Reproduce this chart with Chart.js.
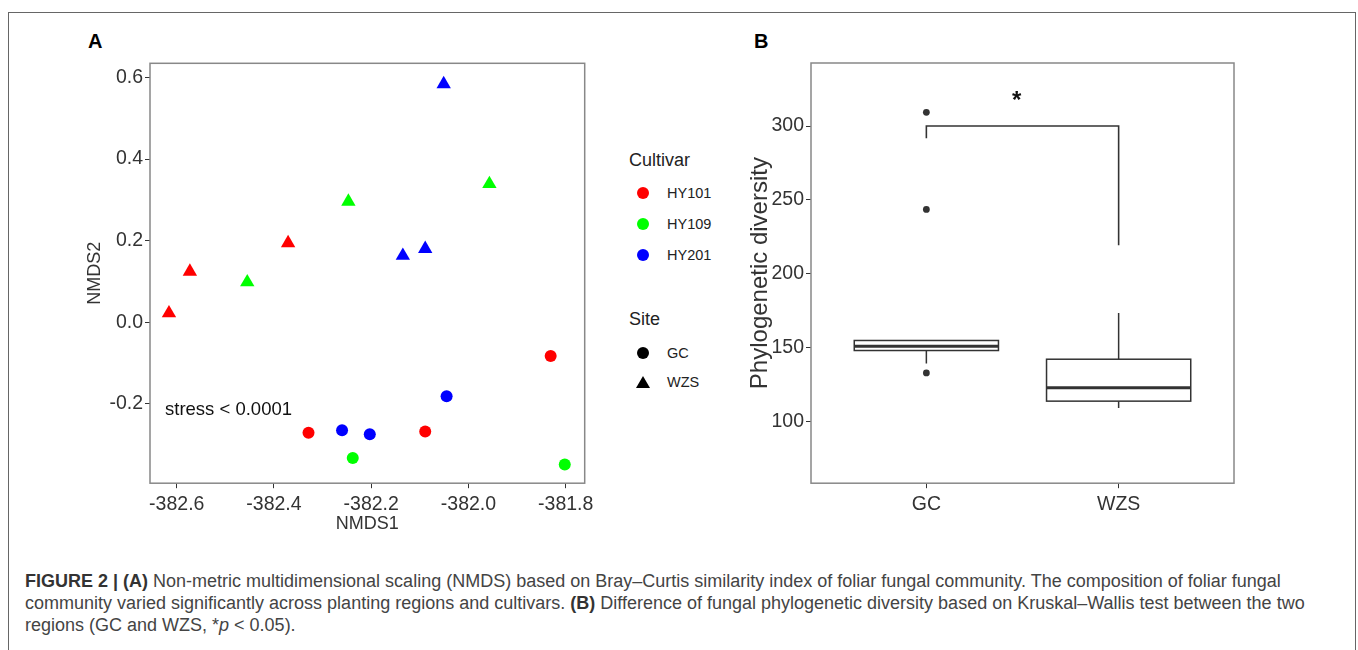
<!DOCTYPE html>
<html>
<head>
<meta charset="utf-8">
<script src="https://cdn.jsdelivr.net/npm/chart.js@4.4.1/dist/chart.umd.min.js"></script>
<style>
  body { margin: 0; background: #fff; font-family: 'Liberation Sans', Arial, sans-serif; }
  #page { position: relative; width: 1358px; height: 650px; overflow: hidden; }
  #frame { position: absolute; left: 8px; top: 12px; width: 1348px; height: 660px;
           border: 1.5px solid #666; border-bottom: none; box-sizing: border-box; }
  canvas { position: absolute; }
  .lbl { position: absolute; white-space: nowrap; }
  .panel { font-weight: bold; font-size: 20px; color: #000; }
  .legtitle { font-size: 18px; color: #222; }
  .legtext { font-size: 14.5px; color: #222; }
  .dot { position: absolute; width: 12px; height: 12px; border-radius: 50%; }
  .tri { position: absolute; width: 0; height: 0; border-left: 7px solid transparent;
         border-right: 7px solid transparent; border-bottom: 12px solid #000; }
  #caption { position: absolute; left: 25px; top: 570px; font-size: 18px; line-height: 22px;
             color: #444; white-space: nowrap; }
  #caption b { color: #333; }
</style>
</head>
<body>
<div id="page">
  <div id="frame"></div>
  <div class="lbl panel" style="left:88px; top:30px;">A</div>
  <div class="lbl panel" style="left:754px; top:30px;">B</div>

  <canvas id="nmds" width="513" height="480" style="left:80px; top:55px;"></canvas>
  <canvas id="pd" width="499" height="480" style="left:740px; top:55px;"></canvas>

  <div class="lbl" style="left:165px; top:398px; font-size:18.5px; line-height:22px; color:#111;">stress &lt; 0.0001</div>

  <div id="legend"></div>

  <div id="caption">
    <b>FIGURE 2 | (A)</b> Non-metric multidimensional scaling (NMDS) based on Bray–Curtis similarity index of foliar fungal community. The composition of foliar fungal<br>
    community varied significantly across planting regions and cultivars. <b>(B)</b> Difference of fungal phylogenetic diversity based on Kruskal–Wallis test between the two<br>
    regions (GC and WZS, *<i>p</i> &lt; 0.05).
  </div>
</div>

<script>
// ---- panel A data: NMDS scores ----
var cultivars = ['HY101', 'HY109', 'HY201'];
var sites = ['GC', 'WZS'];
var pointCultivar = ['HY101', 'HY101', 'HY101', 'HY109', 'HY109', 'HY109', 'HY201', 'HY201', 'HY201',
                     'HY101', 'HY101', 'HY101', 'HY109', 'HY109', 'HY201', 'HY201', 'HY201'];
var pointSite = ['WZS', 'WZS', 'WZS', 'WZS', 'WZS', 'WZS', 'WZS', 'WZS', 'WZS',
                 'GC', 'GC', 'GC', 'GC', 'GC', 'GC', 'GC', 'GC'];
var nmds1 = [-382.616, -382.573, -382.371, -382.455, -382.247, -381.957, -382.051, -382.135, -382.089,
             -382.329, -382.089, -381.831, -382.238, -381.802, -382.260, -382.203, -382.045];
var nmds2 = [0.022, 0.124, 0.194, 0.098, 0.296, 0.339, 0.584, 0.163, 0.180,
             -0.271, -0.268, -0.083, -0.333, -0.349, -0.265, -0.275, -0.182];
var xTicksA = [-382.6, -382.4, -382.2, -382.0, -381.8];
var yTicksA = [-0.2, 0.0, 0.2, 0.4, 0.6];

// ---- panel B data: phylogenetic diversity boxplot ----
var regions = ['GC', 'WZS'];
var boxLow = [139.1, 109.0];
var boxQ1 = [147.9, 113.6];
var boxMedian = [150.8, 122.6];
var boxQ3 = [154.7, 142.0];
var boxHigh = [155.0, 173.4];
var outlierRegion = [0, 0, 0];
var outlierValue = [132.7, 243.5, 309.3];
var bracketX = [0, 0, 1, 1];
var bracketY = [291.7, 300, 300, 219.3];
var signifLabel = '*';
var signifPos = [0.47, 321];
var yTicksB = [100, 150, 200, 250, 300];

var colorOf = { HY101: '#ff0000', HY109: '#00ff00', HY201: '#0000ff' };
var shapeOf = { GC: 'circle', WZS: 'triangle' };
var fontFam = "'Liberation Sans', Arial, sans-serif";
var ink = '#333';

// legend (html)
var leg = document.getElementById('legend');
function addText(cls, txt, left, cy, h) {
    var d = document.createElement('div');
    d.className = 'lbl ' + cls;
    d.textContent = txt;
    d.style.left = left + 'px';
    d.style.top = (cy - h / 2) + 'px';
    d.style.lineHeight = h + 'px';
    leg.appendChild(d);
}
addText('legtitle', 'Cultivar', 629, 160, 20);
var itemY = [193, 224, 255];
cultivars.forEach(function (c, i) {
    var s = document.createElement('div');
    s.className = 'dot';
    s.style.background = colorOf[c];
    s.style.left = '637px';
    s.style.top = (itemY[i] - 6) + 'px';
    leg.appendChild(s);
    addText('legtext', c, 667, itemY[i], 18);
});
addText('legtitle', 'Site', 629, 319, 20);
var sc = document.createElement('div');
sc.className = 'dot'; sc.style.background = '#000'; sc.style.left = '637px'; sc.style.top = '347px';
leg.appendChild(sc);
addText('legtext', 'GC', 667, 353, 18);
var st = document.createElement('div');
st.className = 'tri'; st.style.left = '636px'; st.style.top = '376px';
leg.appendChild(st);
addText('legtext', 'WZS', 667, 382, 18);

// draws the full panel border like ggplot theme_bw
var panelBorder = {
    id: 'panelBorder',
    afterDraw: function (chart) {
        var a = chart.chartArea, ctx = chart.ctx;
        ctx.save();
        ctx.strokeStyle = '#888';
        ctx.lineWidth = 1.5;
        ctx.strokeRect(a.left, a.top, a.right - a.left, a.bottom - a.top);
        ctx.restore();
    }
};

function axisOpts(ticksArr, fmt, min, max, size, title, titleSize) {
    return {
        type: 'linear', min: min, max: max,
        afterFit: function (s) {
            if (s.isHorizontal()) { s.height = size; } else { s.width = size; }
            s.paddingTop = s.paddingBottom = s.paddingLeft = s.paddingRight = 0;
        },
        afterBuildTicks: function (s) { s.ticks = ticksArr.map(function (v) { return { value: v }; }); },
        ticks: { callback: fmt, color: ink, font: { family: fontFam, size: 19.5 }, padding: 2,
                 autoSkip: false, maxRotation: 0 },
        grid: { drawOnChartArea: false, color: ink, tickLength: 5, lineWidth: 1 },
        border: { display: false },
        title: { display: true, text: title, color: ink, padding: 0,
                 font: { family: fontFam, size: titleSize } }
    };
}

// ---- panel A chart ----
var dsA = [];
sites.forEach(function (s) {
    cultivars.forEach(function (c) {
        var pts = [];
        for (var i = 0; i < nmds1.length; i++) {
            if (pointCultivar[i] === c && pointSite[i] === s) pts.push({ x: nmds1[i], y: nmds2[i] });
        }
        dsA.push({
            label: c + ' ' + s, data: pts,
            pointStyle: shapeOf[s],
            pointRadius: s === 'GC' ? 6 : 8.3,
            backgroundColor: colorOf[c], borderColor: colorOf[c], borderWidth: 0
        });
    });
});

var optsAx = axisOpts(xTicksA, function (v) { return v.toFixed(1); }, -382.655, -381.761, 51.8, 'NMDS1', 18);
optsAx.ticks.padding = 5;
new Chart(document.getElementById('nmds'), {
    type: 'scatter',
    data: { datasets: dsA },
    plugins: [panelBorder],
    options: {
        responsive: false, animation: false,
        layout: { padding: { left: 4.2, right: 8, top: 0, bottom: 0 } },
        plugins: { legend: { display: false }, tooltip: { enabled: false } },
        scales: {
            x: optsAx,
            y: axisOpts(yTicksA, function (v) { return v.toFixed(1); }, -0.395, 0.635, 65.8, 'NMDS2', 18)
        }
    }
});

// ---- panel B chart ----
var boxPlot = {
    id: 'boxPlot',
    beforeDatasetsDraw: function (chart) {
        var ctx = chart.ctx, x = chart.scales.x, y = chart.scales.y;
        ctx.save();
        ctx.strokeStyle = ink;
        ctx.lineWidth = 1.5;
        regions.forEach(function (r, i) {
            var xc = x.getPixelForValue(i);
            var x0 = x.getPixelForValue(i - 0.375), x1 = x.getPixelForValue(i + 0.375);
            ctx.beginPath();
            ctx.moveTo(xc, y.getPixelForValue(boxQ3[i])); ctx.lineTo(xc, y.getPixelForValue(boxHigh[i]));
            ctx.moveTo(xc, y.getPixelForValue(boxQ1[i])); ctx.lineTo(xc, y.getPixelForValue(boxLow[i]));
            ctx.stroke();
            ctx.fillStyle = '#fff';
            var yt = y.getPixelForValue(boxQ3[i]), yb = y.getPixelForValue(boxQ1[i]);
            ctx.fillRect(x0, yt, x1 - x0, yb - yt);
            ctx.strokeRect(x0, yt, x1 - x0, yb - yt);
            ctx.lineWidth = 3;
            ctx.beginPath();
            ctx.moveTo(x0, y.getPixelForValue(boxMedian[i])); ctx.lineTo(x1, y.getPixelForValue(boxMedian[i]));
            ctx.stroke();
            ctx.lineWidth = 1.5;
        });
        ctx.fillStyle = '#111';
        ctx.font = 'bold 24px ' + fontFam;
        ctx.textAlign = 'center';
        ctx.textBaseline = 'middle';
        ctx.fillText(signifLabel, x.getPixelForValue(signifPos[0]), y.getPixelForValue(signifPos[1]) + 6);
        ctx.restore();
    }
};

var optsBx = axisOpts([0, 1], function (v) { return regions[v]; }, -0.6, 1.6, 51.8, '', 18);
optsBx.ticks.padding = 5;
new Chart(document.getElementById('pd'), {
    type: 'scatter',
    data: {
        datasets: [{
            label: 'outliers',
            data: outlierRegion.map(function (r, i) { return { x: r, y: outlierValue[i] }; }),
            pointRadius: 3.4, backgroundColor: ink, borderWidth: 0
        }, {
            label: 'bracket',
            data: bracketX.map(function (v, i) { return { x: v, y: bracketY[i] }; }),
            showLine: true, borderColor: ink, borderWidth: 1.6, pointRadius: 0
        }]
    },
    plugins: [boxPlot, panelBorder],
    options: {
        responsive: false, animation: false,
        layout: { padding: { left: 5.6, right: 5, top: 8, bottom: 0 } },
        plugins: { legend: { display: false }, tooltip: { enabled: false } },
        scales: {
            x: optsBx,
            y: axisOpts(yTicksB, function (v) { return v; }, 58, 342.7, 65.4, 'Phylogenetic diversity', 24)
        }
    }
});
</script>
</body>
</html>
